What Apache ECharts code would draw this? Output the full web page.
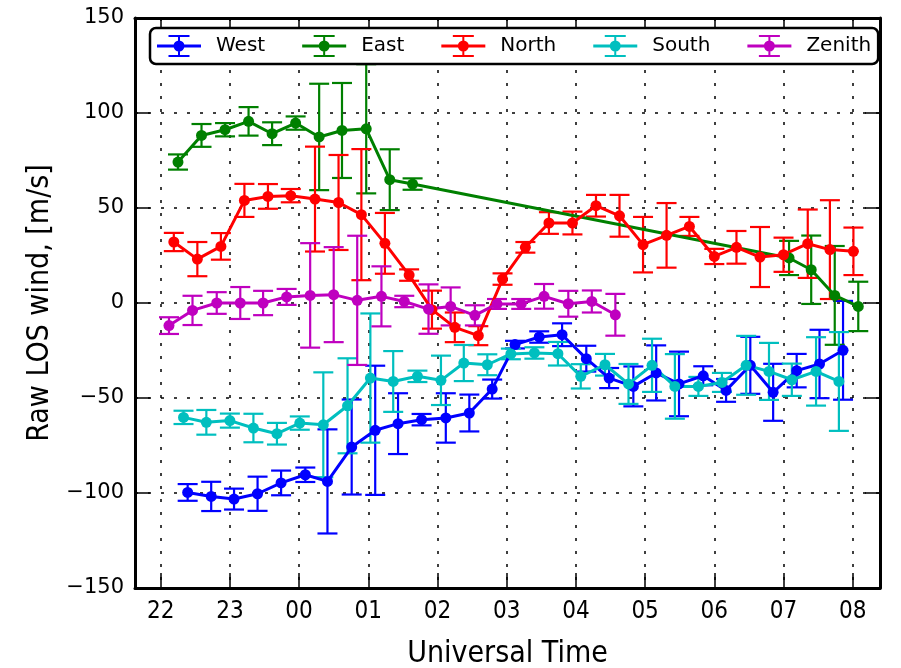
<!DOCTYPE html>
<html>
<head>
<meta charset="utf-8">
<script src="https://cdn.jsdelivr.net/npm/echarts@6/dist/echarts.min.js"></script>
<style>
  html, body { margin: 0; padding: 0; background: #fff; }
  #main { width: 901px; height: 668px; }
</style>
</head>
<body>
<div id="main"></div>
<script>
// time in hours, continuing past midnight (24 = 00 UT)
var westTime = [22.39, 22.73, 23.06, 23.40, 23.74, 24.09, 24.41, 24.76, 25.10, 25.43, 25.77, 26.12, 26.46, 26.79, 27.12, 27.47, 27.80, 28.15, 28.48, 28.83, 29.16, 29.49, 29.84, 30.17, 30.52, 30.85, 31.19, 31.52, 31.86];
var westWind = [-99.7, -101.8, -103.2, -100.4, -94.7, -90.4, -93.9, -75.8, -67, -63.5, -61.4, -60.5, -57.9, -45.3, -21.9, -17.9, -16.7, -29.3, -39.5, -43.9, -36.8, -42.6, -38.3, -46, -32.8, -47, -35.6, -32.1, -24.9];
var westErr = [4.4, 7.7, 5.5, 9, 6.5, 3.8, 27.4, 25, 34, 16, 3, 13, 9.7, 5, 2, 3, 6, 6.8, 5.3, 10.5, 14.5, 17, 5, 6, 15, 15, 8.8, 18, 26];

var eastTime = [22.25, 22.59, 22.93, 23.27, 23.61, 23.95, 24.29, 24.62, 24.97, 25.31, 25.64, 31.08, 31.40, 31.74, 32.08];
var eastWind = [74.2, 88.2, 91.2, 95.6, 89.1, 94.7, 87.4, 90.8, 91.7, 64.9, 62.6, 23.7, 17.5, 4, -1.8];
var eastErr = [4, 6, 3.5, 7.5, 6, 3.5, 28, 25, 34, 16, 3, 9, 18, 26, 13];

var northTime = [22.19, 22.53, 22.87, 23.21, 23.55, 23.88, 24.23, 24.57, 24.90, 25.24, 25.59, 25.92, 26.25, 26.59, 26.94, 27.27, 27.61, 27.95, 28.29, 28.63, 28.97, 29.31, 29.64, 30.00, 30.32, 30.66, 31.00, 31.35, 31.67, 32.01];
var northWind = [32.1, 23.1, 29.8, 54, 56.1, 56.5, 54.7, 52.9, 46.5, 31.4, 14.7, -3.5, -12.8, -17.2, 12.6, 29.3, 42.1, 42.1, 51.2, 45.9, 30.7, 35.6, 40.3, 24.5, 29.3, 24.2, 25.4, 31.2, 28.1, 27.2];
var northErr = [4.8, 9, 7, 8.7, 6.5, 3.5, 27.6, 25, 34.5, 16, 3, 10, 7.8, 5, 3, 2.8, 5.7, 6, 5.7, 11, 14.6, 17, 5, 4, 8.6, 15.8, 9, 18, 26, 12.5];

var southTime = [22.33, 22.66, 23.00, 23.34, 23.68, 24.01, 24.35, 24.70, 25.03, 25.36, 25.71, 26.05, 26.38, 26.72, 27.06, 27.40, 27.74, 28.07, 28.42, 28.76, 29.10, 29.43, 29.77, 30.11, 30.46, 30.79, 31.12, 31.47, 31.80];
var southWind = [-60.2, -62.8, -61.9, -65.8, -68.8, -63.2, -64.1, -54.1, -39.5, -41.3, -38.6, -40.7, -31.6, -32.5, -26.8, -26.3, -26.7, -38.6, -32.5, -42.6, -32.8, -43.9, -43.9, -41.8, -32.8, -36, -40.4, -36, -41.3];
var southErr = [3.5, 6.5, 3.7, 7.5, 5.7, 3.5, 27.6, 25, 34, 16, 3, 13, 9.5, 5.5, 2.8, 3, 6.2, 6.4, 5.7, 10.5, 14, 17, 5, 5, 15.5, 15, 8.5, 18, 26];

var zenithTime = [22.12, 22.46, 22.81, 23.15, 23.48, 23.82, 24.16, 24.50, 24.84, 25.19, 25.52, 25.87, 26.19, 26.54, 26.86, 27.21, 27.54, 27.89, 28.23, 28.57];
var zenithWind = [-11.9, -3.9, 0, 0, 0, 3.2, 4, 4.4, 1.4, 3.5, 0.8, -3.2, -1.8, -6.5, -0.5, -0.5, 3.5, -0.4, 0.8, -6.2];
var zenithErr = [4.4, 7.7, 5.7, 8.4, 6.4, 4.2, 27.5, 25, 34, 15.8, 3, 13, 10, 5.3, 2.6, 2.6, 6.5, 6.8, 5.8, 11];

var hourTicks = [22, 23, 24, 25, 26, 27, 28, 29, 30, 31, 32];

var dirs = [
    {name: 'West', color: '#0000ff', t: westTime, v: westWind, e: westErr},
    {name: 'East', color: '#008000', t: eastTime, v: eastWind, e: eastErr},
    {name: 'North', color: '#ff0000', t: northTime, v: northWind, e: northErr},
    {name: 'South', color: '#00bfbf', t: southTime, v: southWind, e: southErr},
    {name: 'Zenith', color: '#bf00bf', t: zenithTime, v: zenithWind, e: zenithErr}
];

// errorbar legend icon, 44 x 22
var barIcon = 'path://M0 9.5H44V12.5H0Z M21 0H23V22H21Z M11.5 0H32.5V2H11.5Z M11.5 20H32.5V22H11.5Z ' +
    'M27.5 11A5.5 5.5 0 1 1 16.5 11A5.5 5.5 0 1 1 27.5 11Z';

var condensed = "'DejaVu Sans Condensed', 'DejaVu Sans', sans-serif";

function hourLabel(v) {
    var h = Math.round(v) % 24;
    return (h < 10 ? '0' : '') + h;
}

function renderBar(params, api) {
    var x = api.value(0);
    var lo = api.coord([x, api.value(1)]);
    var hi = api.coord([x, api.value(2)]);
    var col = dirs[Math.floor(params.seriesIndex / 2)].color;
    var st = {stroke: col, lineWidth: 2.2};
    return {
        type: 'group',
        children: [
            {type: 'line', shape: {x1: lo[0], y1: lo[1], x2: hi[0], y2: hi[1]}, style: st},
            {type: 'line', shape: {x1: lo[0] - 10, y1: lo[1], x2: lo[0] + 10, y2: lo[1]}, style: st},
            {type: 'line', shape: {x1: hi[0] - 10, y1: hi[1], x2: hi[0] + 10, y2: hi[1]}, style: st}
        ]
    };
}

var series = [];
dirs.forEach(function (d) {
    var pts = [], bars = [];
    for (var i = 0; i < d.t.length; i++) {
        pts.push([d.t[i], d.v[i]]);
        bars.push([d.t[i], d.v[i] - d.e[i], d.v[i] + d.e[i]]);
    }
    series.push({
        name: d.name,
        type: 'line',
        data: pts,
        color: d.color,
        symbol: 'circle',
        symbolSize: 11,
        showSymbol: true,
        lineStyle: {width: 3, color: d.color},
        itemStyle: {color: d.color},
        animation: false
    });
    series.push({
        name: d.name,
        type: 'custom',
        data: bars,
        renderItem: renderBar,
        encode: {x: 0, y: [1, 2]},
        animation: false
    });
});

var xMin = 21.629, xMax = 32.394;
var gridLine = {show: true, lineStyle: {color: '#000', width: 1.5, type: [3, 10]}};

var option = {
    backgroundColor: '#fff',
    animation: false,
    grid: {left: 135, right: 21, top: 18, bottom: 80, containLabel: false, outerBoundsMode: 'none'},
    legend: {
        data: ['West', 'East', 'North', 'South', 'Zenith'],
        left: 150,
        top: 28,
        icon: barIcon,
        itemWidth: 44,
        itemHeight: 22,
        itemGap: 37,
        padding: [7, 7, 7, 7],
        backgroundColor: '#fff',
        borderColor: '#000',
        borderWidth: 2.5,
        borderRadius: 6,
        textStyle: {fontFamily: 'DejaVu Sans', fontSize: 20, color: '#000', padding: [0, 0, 0, 10]}
    },
    xAxis: [{
        type: 'value',
        min: xMin,
        max: xMax,
        name: 'Universal Time',
        nameLocation: 'middle',
        nameGap: 51,
        nameTextStyle: {fontFamily: condensed, fontSize: 30, color: '#000'},
        axisLine: {show: true, onZero: false, lineStyle: {color: '#000', width: 3}},
        axisTick: {show: true, inside: true, length: 15, customValues: hourTicks, lineStyle: {color: '#000', width: 1.5}},
        axisLabel: {customValues: hourTicks, formatter: hourLabel, margin: 12, fontFamily: condensed, fontSize: 24, color: '#000'},
        splitLine: gridLine
    }, {
        type: 'value',
        position: 'top',
        min: xMin,
        max: xMax,
        axisLine: {show: true, onZero: false, lineStyle: {color: '#000', width: 3}},
        axisTick: {show: true, inside: true, length: 15, customValues: hourTicks, lineStyle: {color: '#000', width: 1.5}},
        axisLabel: {show: false},
        splitLine: {show: false}
    }],
    yAxis: [{
        type: 'value',
        min: -150,
        max: 150,
        interval: 50,
        name: 'Raw LOS wind, [m/s]',
        nameLocation: 'middle',
        nameGap: 80,
        nameTextStyle: {fontFamily: condensed, fontSize: 30, color: '#000'},
        axisLine: {show: true, onZero: false, lineStyle: {color: '#000', width: 3}},
        axisTick: {show: true, inside: true, length: 15, lineStyle: {color: '#000', width: 1.5}},
        axisLabel: {margin: 11, fontFamily: 'DejaVu Sans', fontSize: 21, color: '#000',
            formatter: function (v) { return v < 0 ? '\u2212' + (-v) : String(v); }},
        splitLine: gridLine
    }, {
        type: 'value',
        position: 'right',
        min: -150,
        max: 150,
        interval: 50,
        axisLine: {show: true, onZero: false, lineStyle: {color: '#000', width: 3}},
        axisTick: {show: true, inside: true, length: 15, lineStyle: {color: '#000', width: 1.5}},
        axisLabel: {show: false},
        splitLine: {show: false}
    }],
    series: series
};

var myChart = echarts.init(document.getElementById('main'), null, {renderer: 'canvas'});
myChart.setOption(option);
</script>
</body>
</html>
